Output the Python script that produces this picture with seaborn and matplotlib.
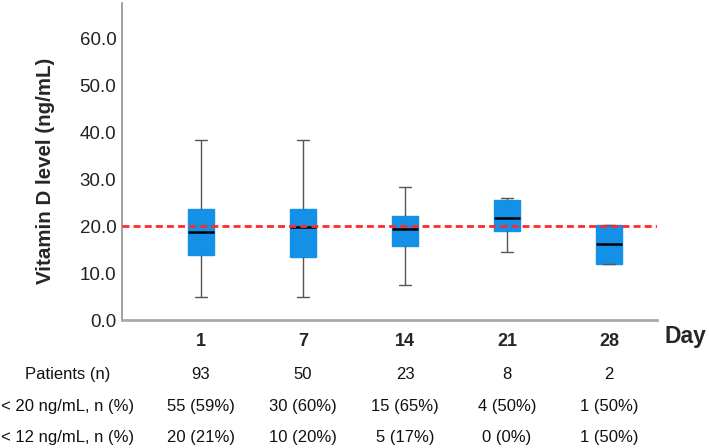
import numpy as np
import pandas as pd
import matplotlib
matplotlib.use("Agg")
import matplotlib.pyplot as plt
import matplotlib.transforms as mtransforms
import seaborn as sns

# ---- data (five-number summaries) ----
days = ["1", "7", "14", "21", "28"]
whisker_low = [4.9, 4.9, 7.4, 14.4, 11.9]
q1 = [13.9, 13.5, 15.7, 19.0, 11.9]
median = [18.7, 19.8, 19.3, 21.8, 16.1]
q3 = [23.6, 23.6, 22.2, 25.6, 20.3]
whisker_high = [38.3, 38.3, 28.3, 26.0, 20.3]

threshold = 20.0
yticks = [0, 10, 20, 30, 40, 50, 60]

row_labels = ["Patients (n)", "< 20 ng/mL, n (%)", "< 12 ng/mL, n (%)"]
patients = ["93", "50", "23", "8", "2"]
below20 = ["55 (59%)", "30 (60%)", "15 (65%)", "4 (50%)", "1 (50%)"]
below12 = ["20 (21%)", "10 (20%)", "5 (17%)", "0 (0%)", "1 (50%)"]

# long table: the five summary values per day
records = []
for i, d in enumerate(days):
    for v in (whisker_low[i], q1[i], median[i], q3[i], whisker_high[i]):
        records.append({"Day": d, "value": v})
df = pd.DataFrame(records)

sns.set_theme(style="white")
plt.rcParams["font.family"] = ["Liberation Sans", "DejaVu Sans"]

fig = plt.figure(figsize=(7.09, 4.48), dpi=100)
ax = fig.add_axes([122 / 709, 1 - 320 / 448, (657 - 122) / 709, (320 - 3) / 448])

box_color = "#1490E6"
sns.boxplot(data=df, x="Day", y="value", order=days, ax=ax, width=0.25,
            whis=(0, 100), color=box_color, saturation=1, linewidth=1,
            boxprops=dict(facecolor=box_color, edgecolor=box_color),
            medianprops=dict(color="black", linewidth=1.8),
            whiskerprops=dict(color="#555555", linewidth=1),
            capprops=dict(color="#555555", linewidth=1),
            showfliers=False)

ax.axhline(threshold, color="#FF2A2A", linewidth=2, linestyle=(0, (2.5, 1.5)), zorder=5)

ax.set_xlim(-0.775, 4.47)
ax.set_ylim(0, 67.5)
ax.set_yticks(yticks)
ax.set_yticklabels([f"{t:.1f}" for t in yticks], fontsize=13.5, color="#222222")
ax.set_xlabel("")
ax.set_ylabel("Vitamin D level (ng/mL)", fontsize=14.8, fontweight="bold")
ax.yaxis.set_label_coords(-0.125, 0.47)
ax.tick_params(axis="both", length=0)
ax.tick_params(axis="x", pad=9)
ax.tick_params(axis="y", pad=4)
for lbl in ax.get_xticklabels():
    lbl.set_fontweight("bold")
    lbl.set_fontsize(13)

for s in ["top", "right"]:
    ax.spines[s].set_visible(False)
ax.spines["left"].set_color("#999999")
ax.spines["left"].set_linewidth(1.3)
ax.spines["bottom"].set_color("#AAAAAA")
ax.spines["bottom"].set_linewidth(2)

fig.text(685 / 709, 1 - 336 / 448, "Day", fontsize=16.5, fontweight="bold",
         ha="center", va="center")

trans = mtransforms.blended_transform_factory(ax.transData, fig.transFigure)
row_y = [1 - 374 / 448, 1 - 406 / 448, 1 - 437 / 448]
for lbl, vals, yy in zip(row_labels, [patients, below20, below12], row_y):
    fig.text(68 / 709, yy, lbl, fontsize=12, ha="center", va="center", color="#111111")
    for i, v in enumerate(vals):
        ax.text(i, yy, v, transform=trans, fontsize=12, ha="center", va="center",
                color="#111111", clip_on=False)

fig.savefig("out.png", dpi=100)
